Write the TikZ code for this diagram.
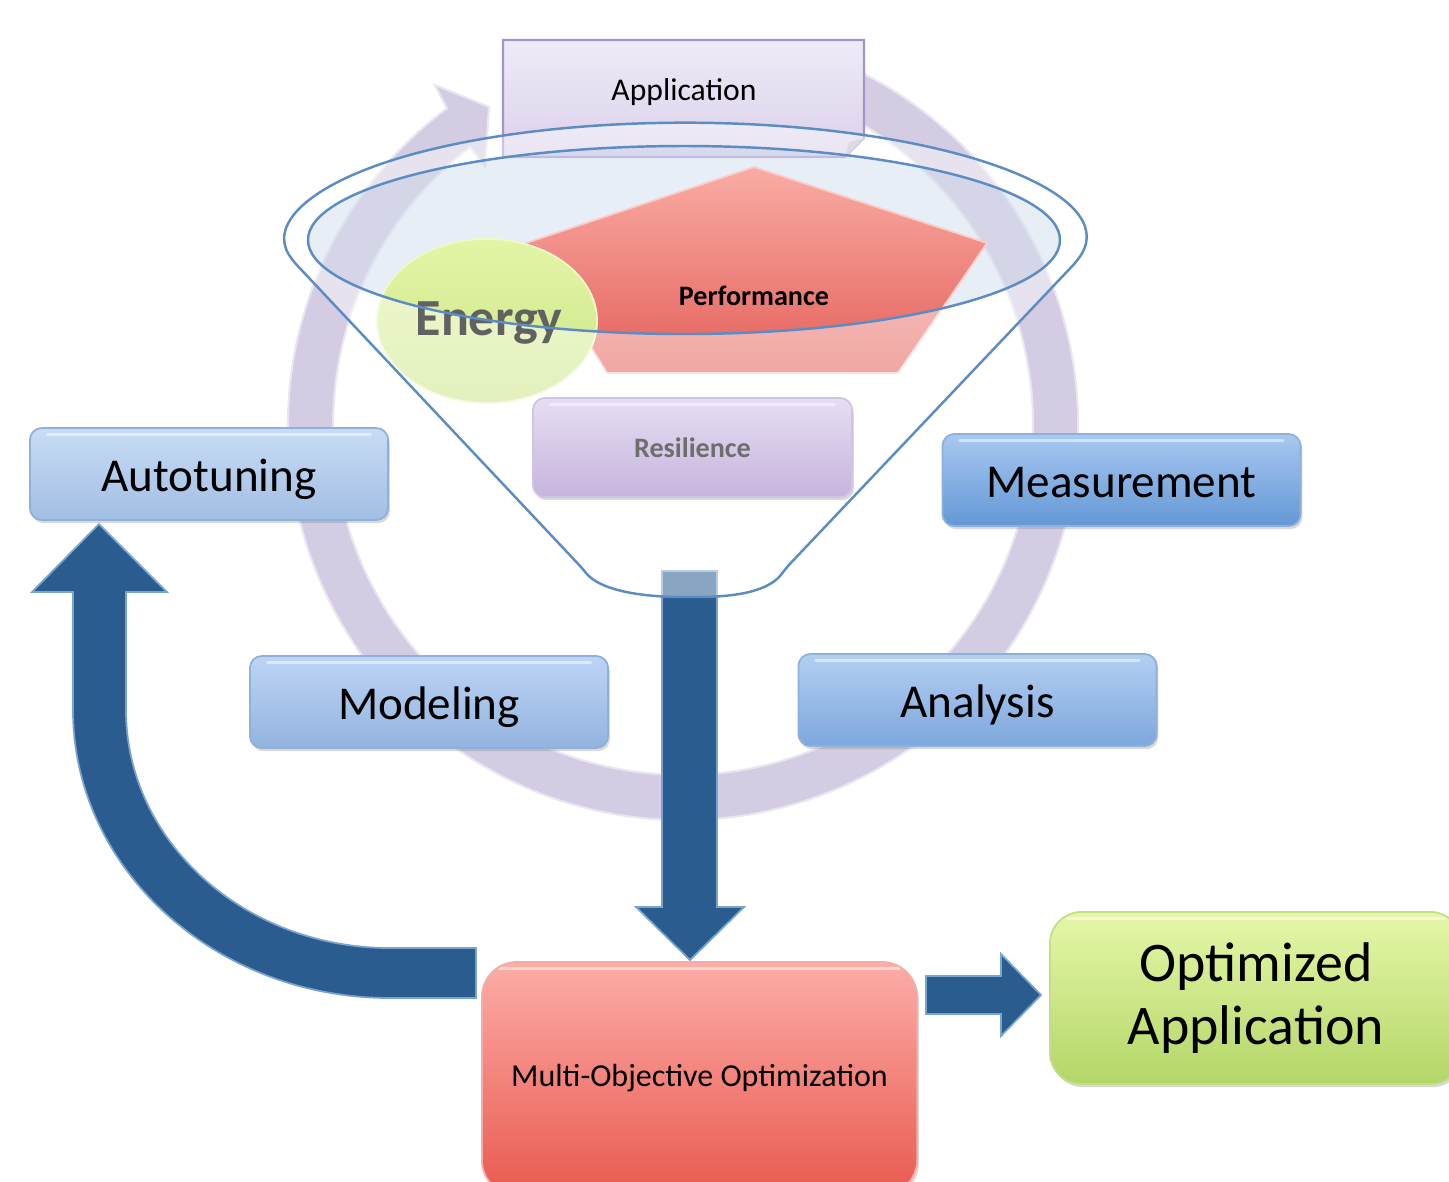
\documentclass[tikz,border=0pt]{standalone}
\usepackage{fontspec}
\setmainfont{Carlito}
\usetikzlibrary{shadows,shapes.geometric}

\definecolor{ringlav}{HTML}{D3CCE2}
\definecolor{ringedge}{HTML}{E9E5F1}
\definecolor{appTop}{HTML}{EFEAF7}
\definecolor{appBot}{HTML}{DBD1EB}
\definecolor{appEdge}{HTML}{A594C8}
\definecolor{rimBlue}{HTML}{5B8CC4}
\definecolor{rimFill}{HTML}{D5E0EE}
\definecolor{perfTop}{HTML}{F9ACA4}
\definecolor{perfBot}{HTML}{E4605A}
\definecolor{enTop}{HTML}{E3F5A5}
\definecolor{enBot}{HTML}{CDE58A}
\definecolor{resTop}{HTML}{E6DEF3}
\definecolor{resBot}{HTML}{C6B4DC}
\definecolor{arrowBlue}{HTML}{2A5C8F}
\definecolor{arrowEdge}{HTML}{7BA3CF}
\definecolor{mooTop}{HTML}{FDADA8}
\definecolor{mooBot}{HTML}{E85A4F}
\definecolor{optTop}{HTML}{E5F7A8}
\definecolor{optBot}{HTML}{B4D668}
\definecolor{boxEdge}{HTML}{8FB0DA}
\definecolor{autoTop}{HTML}{C8DCF5}
\definecolor{autoBot}{HTML}{A2BEE3}
\definecolor{modTop}{HTML}{BDD5F5}
\definecolor{modBot}{HTML}{93B3DF}
\definecolor{anaTop}{HTML}{B3CFF3}
\definecolor{anaBot}{HTML}{7EA7DC}
\definecolor{meaTop}{HTML}{A8C8F0}
\definecolor{meaBot}{HTML}{6398D6}

\begin{document}
\begin{tikzpicture}[x=0.01cm, y=-0.01cm,
  gloss/.style={path picture={\draw[white, line width=0.9pt, opacity=0.5, line cap=round]
      ([xshift=5pt,yshift=-1.8pt]path picture bounding box.north west) --
      ([xshift=-5pt,yshift=-1.8pt]path picture bounding box.north east);}},
  softshadow/.style={drop shadow={shadow xshift=0.5pt, shadow yshift=-0.9pt, opacity=0.3}},
  stagebox/.style={rectangle, rounded corners=3.4pt, inner sep=0pt,
      minimum width=3.58cm, minimum height=0.92cm, draw=boxEdge, line width=0.5pt,
      text height=10pt, text depth=0pt,
      font=\fontsize{13.4}{16}\selectfont, softshadow, gloss},
  fatarrow/.style={fill=arrowBlue, draw=arrowEdge, line width=0.5pt, line join=miter},
  rimline/.style={draw=rimBlue, line width=0.7pt}
]
\useasboundingbox (0,0) rectangle (1449,1181);
\clip (0,0) rectangle (1449,1181);

% circular cycle arrow behind everything
\path[fill=ringlav, draw=ringedge, line width=0.6pt]
  (856.2,70) arc[start angle=-64, end angle=233.3, radius=395]
  -- (435,85) -- (489,107) -- (485,167) -- (470,147.3)
  arc[start angle=232.5, end angle=-64, radius=350] -- cycle;

% application tab with folded corner
\path[draw=appEdge, line width=0.6pt, top color=appTop, bottom color=appBot]
  (503,40) -- (864,40) -- (864,138) -- (845,157) -- (503,157) -- cycle;
\fill[appBot!75!gray] (864,138) -- (845,157) -- (849,142) -- cycle;
\node[font=\fontsize{9}{11}\selectfont, text height=5.7pt, text depth=0pt] (app) at (684,90) {Application};

% funnel opening
\fill[rimFill, fill opacity=0.55] (684,240) ellipse[x radius=376, y radius=94];

% objectives inside the funnel
\path[draw=perfTop!60!white, line width=0.5pt, top color=perfTop, bottom color=perfBot]
  (754,167) -- (987,243) -- (898,373) -- (607,373) -- (526,243) -- cycle;
\node[ellipse, minimum width=2.2cm, minimum height=1.64cm, draw=enTop!60!white,
  line width=0.5pt, top color=enTop, bottom color=enBot] (energy) at (487,321) {};

% flow out of the funnel
\fill[fatarrow] (662,571) -- (717,571) -- (717,907) -- (744,907) -- (690,960)
  -- (636,907) -- (662,907) -- cycle;

% funnel body (translucent, opening left clear)
\fill[white, fill opacity=0.45, even odd rule]
  (1078,260) arc[start angle=10, end angle=-190, x radius=399, y radius=117]
  -- (582,568) .. controls (600,590) and (640,597) .. (690,597)
  .. controls (740,597) and (770,590) .. (786,568) -- cycle
  (684,240) ellipse[x radius=376, y radius=94];

\node[font=\fontsize{8}{10}\selectfont\bfseries] (perf) at (754,296) {Performance};
\node[font=\fontsize{14.8}{17}\selectfont\bfseries, text=black!62] (energyLbl) at (489,323) {Energy};

\path[rimline, rounded corners=2pt]
  (1078,260) arc[start angle=10, end angle=-190, x radius=399, y radius=117]
  -- (582,568) .. controls (600,590) and (640,597) .. (690,597)
  .. controls (740,597) and (770,590) .. (786,568) -- cycle;
\path[rimline] (684,240) ellipse[x radius=376, y radius=94];

\node[rectangle, rounded corners=3.4pt, inner sep=0pt, minimum width=3.19cm,
  minimum height=0.99cm, draw=resBot!80!white, line width=0.5pt,
  top color=resTop, bottom color=resBot, softshadow, gloss,
  font=\fontsize{8}{10}\selectfont\bfseries, text=black!57] (res) at (692.5,447.5) {Resilience};

% stages of the cycle
\node[stagebox, top color=autoTop, bottom color=autoBot] (auto) at (209,474) {Autotuning};
\node[stagebox, top color=meaTop, bottom color=meaBot] (meas) at (1121.5,480) {Measurement};
\node[stagebox, top color=modTop, bottom color=modBot] (model) at (429,702) {Modeling};
\node[stagebox, top color=anaTop, bottom color=anaBot] (anal) at (977.5,700) {Analysis};

% feedback arrow to autotuning
\fill[fatarrow] (126,592) -- (126,710)
  arc[start angle=180, end angle=90, x radius=264, y radius=238]
  -- (476,948) -- (476,998) -- (390,998)
  arc[start angle=90, end angle=180, x radius=317, y radius=288]
  -- (73,592) -- (32,592) -- (99,524) -- (167,592) -- cycle;

% optimisation and result
\node[rectangle, rounded corners=10pt, inner sep=0pt, minimum width=4.35cm,
  minimum height=2.33cm, draw=mooBot!50!white, line width=0.5pt,
  top color=mooTop, bottom color=mooBot, softshadow, gloss,
  font=\fontsize{9.1}{11}\selectfont] (moo) at (699.5,1078.5) {Multi-Objective Optimization};

\fill[fatarrow] (926,976) -- (1001,976) -- (1001,954) -- (1041,995) -- (1001,1036)
  -- (1001,1014) -- (926,1014) -- cycle;

\node[rectangle, rounded corners=9pt, inner sep=0pt, minimum width=4.12cm,
  minimum height=1.72cm, draw=optBot!80!white, line width=0.5pt,
  top color=optTop, bottom color=optBot, softshadow, gloss, align=center,
  font=\fontsize{15.9}{17.9}\selectfont] (opt) at (1256,998) {Optimized\\Application};
\end{tikzpicture}
\end{document}
